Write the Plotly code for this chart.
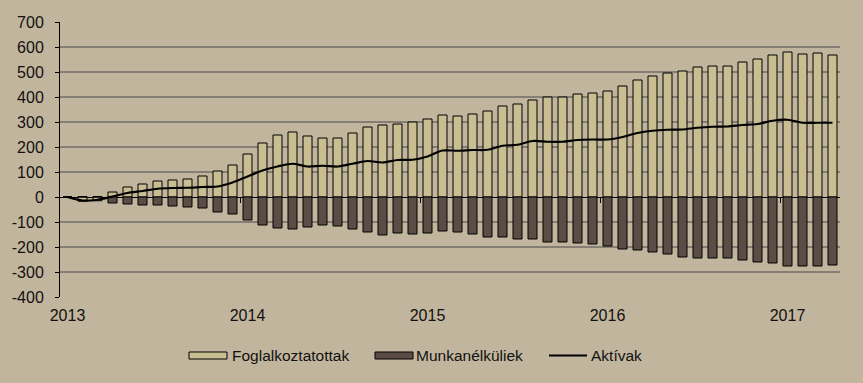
import pandas as pd
import plotly.graph_objects as go

# ---- data ----
months = [d.strftime("%Y-%m") for d in pd.date_range("2013-01-01", "2017-04-01", freq="MS")]

foglalkoztatottak = [0, -17, -15, 20, 40, 52, 64, 68, 72, 84, 104, 128,
                     172, 216, 248, 260, 244, 236, 236, 256, 280, 288, 292, 300,
                     312, 328, 324, 332, 344, 364, 372, 388, 400, 400, 412, 416,
                     424, 444, 468, 484, 496, 504, 520, 524, 524, 540, 552, 568,
                     580, 572, 576, 568]

munkanelkuliek = [0, 2, 2, -24, -28, -32, -32, -36, -40, -44, -60, -68,
                  -92, -112, -124, -128, -120, -112, -116, -128, -140, -152, -144, -148,
                  -144, -136, -140, -148, -160, -160, -168, -168, -180, -180, -184, -188,
                  -196, -208, -212, -220, -228, -240, -244, -244, -244, -252, -260, -264,
                  -276, -276, -276, -272]

aktivak = [0, -14, -11, 2, 16, 24, 33, 36, 37, 40, 42, 58,
           82, 106, 122, 133, 122, 125, 122, 133, 144, 138, 148, 149,
           162, 186, 185, 188, 189, 205, 209, 224, 221, 221, 228, 230,
           230, 240, 256, 265, 269, 270, 277, 281, 282, 288, 292, 305,
           309, 297, 297, 297]

year_tick_months = ["2013-01", "2014-01", "2015-01", "2016-01", "2017-01"]
year_labels = ["2013", "2014", "2015", "2016", "2017"]

y_ticks = list(range(-400, 701, 100))
y_tick_labels = [str(v) for v in y_ticks]
y_min, y_max = -400, 700

series_names = ["Foglalkoztatottak", "Munkanélküliek", "Aktívak"]

# ---- styles ----
BG = "#C2B59D"
LIGHT = "#C9BE92"
DARK = "#5A4D46"
GRID = "#857E75"
FONT = "Liberation Sans, Arial, sans-serif"
FS = 16
LFS = 15.5

W, H = 863, 383
ML, MR, MT, MB = 60, 23, 22, 86
PW, PH = W - ML - MR, H - MT - MB


def px_x(p):
    return (p - ML) / PW


def px_y(p):
    return (H - MB - p) / PH


fig = go.Figure()
fig.add_trace(go.Bar(x=months, y=foglalkoztatottak, name=series_names[0],
                     marker=dict(color=LIGHT, line=dict(color="#000000", width=1))))
fig.add_trace(go.Bar(x=months, y=munkanelkuliek, name=series_names[1],
                     marker=dict(color=DARK, line=dict(color="#000000", width=1))))
fig.add_trace(go.Scatter(x=months, y=aktivak, name=series_names[2], mode="lines",
                         line=dict(color="#000000", width=2.2, shape="spline", smoothing=0.8)))
# invisible helper trace so the boundary-tick axis is drawn
fig.add_trace(go.Scatter(x=list(range(len(months))), y=aktivak, xaxis="x2", mode="lines",
                         line=dict(width=0), opacity=0, hoverinfo="skip", showlegend=False))

fig.update_layout(
    width=W, height=H,
    margin=dict(l=ML, r=MR, t=MT, b=MB, autoexpand=False),
    paper_bgcolor=BG, plot_bgcolor=BG,
    barmode="relative", bargap=0.4,
    showlegend=False,
    font=dict(family=FONT, size=FS, color="#111111"),
    xaxis=dict(type="category", categoryarray=months, range=[-0.5, len(months) - 0.5],
               tickmode="array", tickvals=year_tick_months, ticktext=year_labels,
               ticks="", showgrid=False, showline=False, zeroline=False,
               ticklabelstandoff=7),
    xaxis2=dict(overlaying="x", anchor="free", side="bottom",
                position=(0 - y_min) / (y_max - y_min),
                range=[-0.5, len(months) - 0.5],
                tickmode="array", tickvals=[11.5, 23.5, 35.5, 47.5],
                ticks="outside", ticklen=5, tickwidth=1, tickcolor="#000000",
                showticklabels=False, showgrid=False, showline=False, zeroline=False),
    yaxis=dict(range=[y_min, y_max], tickmode="array", tickvals=y_ticks, ticktext=y_tick_labels,
               showgrid=True, gridcolor=GRID, gridwidth=1.6,
               zeroline=True, zerolinecolor="#000000", zerolinewidth=1,
               showline=True, linecolor="#000000", linewidth=1,
               ticks="outside", ticklen=4, tickcolor="#000000",
               ticklabelstandoff=8),
)

# ---- custom legend ----
ly = 355.5
legend_items = [
    (189, 227, 231, "box", LIGHT, series_names[0]),
    (375, 413, 415, "box", DARK, series_names[1]),
    (549, 587, 590, "line", "#000000", series_names[2]),
]
for x0, x1, tx, kind, col, label in legend_items:
    if kind == "box":
        fig.add_shape(type="rect", xref="paper", yref="paper",
                      x0=px_x(x0), x1=px_x(x1), y0=px_y(ly + 3.5), y1=px_y(ly - 3.5),
                      fillcolor=col, line=dict(color="#000000", width=1))
    else:
        fig.add_shape(type="line", xref="paper", yref="paper",
                      x0=px_x(x0), x1=px_x(x1), y0=px_y(ly), y1=px_y(ly),
                      line=dict(color=col, width=2))
    fig.add_annotation(text=label, xref="paper", yref="paper", x=px_x(tx), y=px_y(ly),
                       xanchor="left", yanchor="middle", showarrow=False,
                       font=dict(family=FONT, size=LFS, color="#111111"), borderpad=0)

fig.write_html("out.html",
               config={"displayModeBar": False},
               post_script="document.body.style.margin='0';document.body.style.background='%s';" % BG)
